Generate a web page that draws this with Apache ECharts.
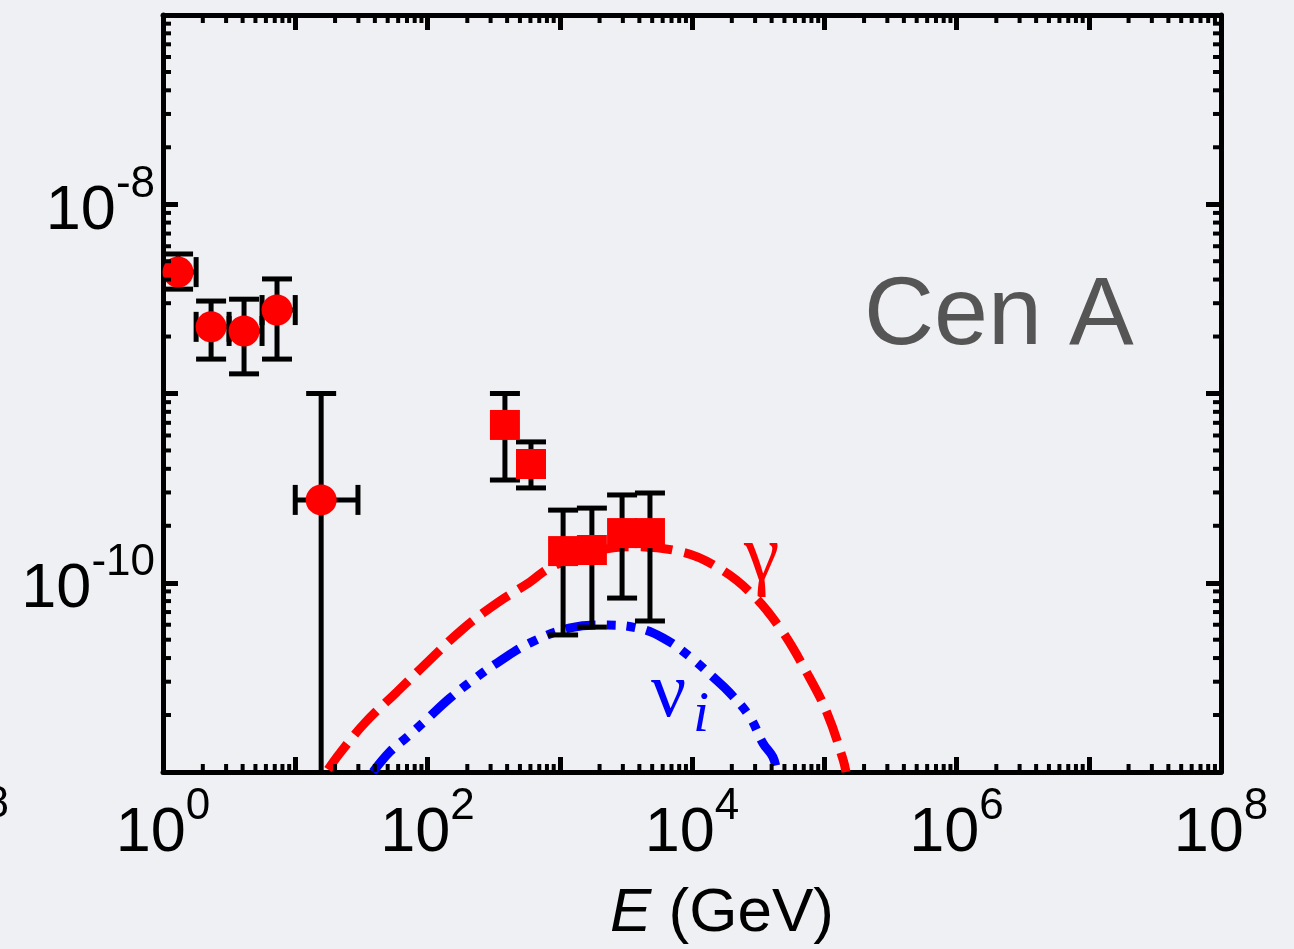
<!DOCTYPE html>
<html><head><meta charset="utf-8">
<script src="https://cdn.jsdelivr.net/npm/echarts@6/dist/echarts.min.js"></script>
<style>html,body{margin:0;padding:0;background:#eef0f3;}#c{width:1294px;height:949px;}</style>
</head><body><div id="c"></div>
<script>
// ---- data ----
var xTickExps = [0, 2, 4, 6, 8];          // labelled x decades
var yTickExps = [-8, -10];                // labelled y decades

var circE   = [1.30, 2.31, 4.10, 7.28, 15.7];
var circF   = [4.38e-9, 2.25e-9, 2.14e-9, 2.76e-9, 2.74e-10];
var circFLo = [3.56e-9, 1.52e-9, 1.27e-9, 1.52e-9, 1e-12];
var circFHi = [5.46e-9, 3.08e-9, 3.15e-9, 4.03e-9, 1.0e-9];
var circELo = [0.95, 1.78, 3.16, 5.61, 10.0];
var circEHi = [1.78, 3.16, 5.61, 10.0, 29.8];

var sqE   = [385, 606, 1060, 1750, 2960, 4810];
var sqF   = [6.82e-10, 4.24e-10, 1.47e-10, 1.49e-10, 1.83e-10, 1.83e-10];
var sqFLo = [3.49e-10, 3.17e-10, 5.30e-11, 5.83e-11, 8.30e-11, 6.28e-11];
var sqFHi = [1.0e-9, 5.55e-10, 2.42e-10, 2.48e-10, 2.91e-10, 2.98e-10];

var gammaE = [17.7, 21.8, 33.7, 58.7, 104, 185, 336, 596, 843, 1690, 3400, 8550, 15500, 27400, 46200, 74100, 105000, 139000, 146000];
var gammaF = [1.03e-11, 1.26e-11, 1.82e-11, 2.65e-11, 3.91e-11, 5.70e-11, 7.82e-11, 1.01e-10, 1.20e-10, 1.44e-10, 1.55e-10, 1.45e-10, 1.21e-10, 8.93e-11, 5.77e-11, 3.33e-11, 2.05e-11, 1.16e-11, 1.00e-11];

var nuE = [38.7, 52.0, 70.0, 95.7, 148, 237, 336, 596, 1200, 2120, 3840, 6040, 9660, 14400, 19400, 27400, 34400, 40900, 43900];
var nuF = [1.00e-11, 1.28e-11, 1.53e-11, 1.86e-11, 2.46e-11, 3.18e-11, 3.77e-11, 4.81e-11, 5.77e-11, 5.98e-11, 5.77e-11, 5.11e-11, 4.06e-11, 3.18e-11, 2.61e-11, 1.95e-11, 1.42e-11, 1.20e-11, 1.00e-11];

// ---- build ----
var X_MIN = 1, X_MAX = 1e8, Y_MIN = 1e-11, Y_MAX = 1e-7;
var xMinor = [], yMinor = [];
for (var k = 0; k < 8; k++) for (var m = 2; m <= 9; m++) xMinor.push([m * Math.pow(10, k), 1e-9]);
for (var k2 = -11; k2 < -7; k2++) for (var m2 = 2; m2 <= 9; m2++) yMinor.push([10, m2 * Math.pow(10, k2)]);

function zip(a, b) { return a.map(function (v, i) { return [v, b[i]]; }); }
var circErr = circE.map(function (v, i) { return [v, circF[i], circELo[i], circEHi[i], circFLo[i], circFHi[i]]; });
var sqErr = sqE.map(function (v, i) { return [v, sqF[i], NaN, NaN, sqFLo[i], sqFHi[i]]; });

var CAP = 15, EW = 5;
function errRender(params, api) {
  var x = api.value(0), y = api.value(1), xl = api.value(2), xh = api.value(3), yl = api.value(4), yh = api.value(5);
  var c = api.coord([x, y]);
  var st = { stroke: '#000', lineWidth: EW, fill: null };
  var ch = [];
  function seg(x1, y1, x2, y2) { ch.push({ type: 'line', shape: { x1: x1, y1: y1, x2: x2, y2: y2 }, style: st }); }
  if (isFinite(yl) && isFinite(yh)) {
    var pl = api.coord([x, yl]), ph = api.coord([x, yh]);
    seg(c[0], pl[1], c[0], ph[1]);
    seg(c[0] - CAP, ph[1], c[0] + CAP, ph[1]);
    seg(c[0] - CAP, pl[1], c[0] + CAP, pl[1]);
  }
  if (isFinite(xl) && isFinite(xh)) {
    var ql = api.coord([xl, y]), qh = api.coord([xh, y]);
    seg(ql[0], c[1], qh[0], c[1]);
    seg(ql[0], c[1] - CAP, ql[0], c[1] + CAP);
    seg(qh[0], c[1] - CAP, qh[0], c[1] + CAP);
  }
  return { type: 'group', children: ch };
}
function xMinorRender(params, api) {
  var cs = params.coordSys;
  var px = api.coord([api.value(0), 1e-9])[0];
  var st = { stroke: '#000', lineWidth: 4 };
  return { type: 'group', children: [
    { type: 'line', shape: { x1: px, y1: cs.y + cs.height, x2: px, y2: cs.y + cs.height - 8 }, style: st },
    { type: 'line', shape: { x1: px, y1: cs.y, x2: px, y2: cs.y + 8 }, style: st }
  ] };
}
function yMinorRender(params, api) {
  var cs = params.coordSys;
  var py = api.coord([10, api.value(1)])[1];
  var st = { stroke: '#000', lineWidth: 4 };
  return { type: 'group', children: [
    { type: 'line', shape: { x1: cs.x, y1: py, x2: cs.x + 8, y2: py }, style: st },
    { type: 'line', shape: { x1: cs.x + cs.width, y1: py, x2: cs.x + cs.width - 8, y2: py }, style: st }
  ] };
}

var FONT = 'Liberation Sans';
var rich = {
  b: { fontSize: 63, lineHeight: 63, fontFamily: FONT, color: '#000', verticalAlign: 'bottom' },
  s: { fontSize: 44, lineHeight: 44, fontFamily: FONT, color: '#000', verticalAlign: 'bottom', padding: [0, 0, 36, 0] }
};
function expOf(v) { return Math.round(Math.log10(v)); }
function xFmt(v) { var e = expOf(v); return xTickExps.indexOf(e) >= 0 ? '{b|10}{s|' + e + '}' : ''; }
function yFmt(v) { var e = expOf(v); return yTickExps.indexOf(e) >= 0 ? '{b|10}{s|' + e + '}' : ''; }

var axisLine = { show: true, onZero: false, lineStyle: { color: '#000', width: 5 } };
var axisTick = { show: true, inside: true, length: 15, lineStyle: { color: '#000', width: 5 } };

var chart = echarts.init(document.getElementById('c'), null, { renderer: 'canvas' });
chart.setOption({
  backgroundColor: '#eef0f3',
  animation: false,
  grid: { left: 163, right: 73, top: 15, bottom: 177, containLabel: false },
  xAxis: [
    { type: 'log', logBase: 10, min: X_MIN, max: X_MAX, splitNumber: 8, position: 'bottom',
      axisLine: axisLine, axisTick: axisTick, splitLine: { show: false },
      axisLabel: { formatter: xFmt, rich: rich, margin: 30 } },
    { type: 'log', logBase: 10, min: X_MIN, max: X_MAX, splitNumber: 8, position: 'top',
      axisLine: axisLine, axisTick: axisTick, splitLine: { show: false }, axisLabel: { show: false } }
  ],
  yAxis: [
    { type: 'log', logBase: 10, min: Y_MIN, max: Y_MAX, splitNumber: 4, position: 'left',
      axisLine: axisLine, axisTick: axisTick, splitLine: { show: false },
      axisLabel: { formatter: yFmt, rich: rich, margin: 8, padding: [14, 0, 0, 0] } },
    { type: 'log', logBase: 10, min: Y_MIN, max: Y_MAX, splitNumber: 4, position: 'right',
      axisLine: axisLine, axisTick: axisTick, splitLine: { show: false }, axisLabel: { show: false } }
  ],
  series: [
    { type: 'custom', renderItem: xMinorRender, data: xMinor, clip: false, silent: true, z: 5 },
    { type: 'custom', renderItem: yMinorRender, data: yMinor, clip: false, silent: true, z: 5 },
    { name: 'gamma', type: 'line', data: zip(gammaE, gammaF), showSymbol: false, smooth: 0.4, clip: true,
      lineStyle: { color: '#ff0000', width: 9, type: [32, 12], cap: 'butt' }, z: 2 },
    { name: 'nu', type: 'line', data: zip(nuE, nuF), showSymbol: false, smooth: 0.4, clip: true,
      lineStyle: { color: '#0000ff', width: 9, type: [30, 11, 9, 11, 9, 11], cap: 'butt' }, z: 2 },
    { type: 'custom', renderItem: errRender, data: circErr, clip: true, z: 3, encode: { x: 0, y: 1 } },
    { type: 'custom', renderItem: errRender, data: sqErr, clip: true, z: 3, encode: { x: 0, y: 1 } },
    { name: 'circles', type: 'scatter', data: zip(circE, circF), symbol: 'circle', symbolSize: 31,
      itemStyle: { color: '#ff0000', opacity: 1 }, z: 4 },
    { name: 'squares', type: 'scatter', data: zip(sqE, sqF), symbol: 'rect', symbolSize: 30,
      itemStyle: { color: '#ff0000', opacity: 1 }, z: 4 }
  ],
  graphic: [
    { type: 'text', x: 864, y: 317, z: 10, style: { text: 'Cen A', font: '97px "Liberation Sans"', fill: '#555555', verticalAlign: 'middle', textVerticalAlign: 'middle' } },
    { type: 'text', x: 744, y: 559, z: 10, style: { text: 'γ', font: '80px "Liberation Serif"', fill: '#ff0000', verticalAlign: 'middle', textVerticalAlign: 'middle' } },
    { type: 'text', x: 651, y: 696, z: 10, style: { text: 'ν', font: '78px "Liberation Serif"', fill: '#0000ff', verticalAlign: 'middle', textVerticalAlign: 'middle' } },
    { type: 'text', x: 693, y: 716, z: 10, style: { text: 'i', font: 'italic 58px "Liberation Serif"', fill: '#0000ff', verticalAlign: 'middle', textVerticalAlign: 'middle' } },
    { type: 'text', x: 610, y: 914, z: 10, style: { text: '{i|E} (GeV)', font: '62px "Liberation Sans"', fill: '#000', verticalAlign: 'middle', textVerticalAlign: 'middle',
        rich: { i: { fontStyle: 'italic', fontSize: 62, fontFamily: FONT, fill: '#000', color: '#000' } } } },
    { type: 'text', x: 9, y: 805, z: 10, style: { text: '8', font: '44px "Liberation Sans"', fill: '#000', align: 'right', textAlign: 'right', verticalAlign: 'middle', textVerticalAlign: 'middle' } }
  ]
});
</script></body></html>
